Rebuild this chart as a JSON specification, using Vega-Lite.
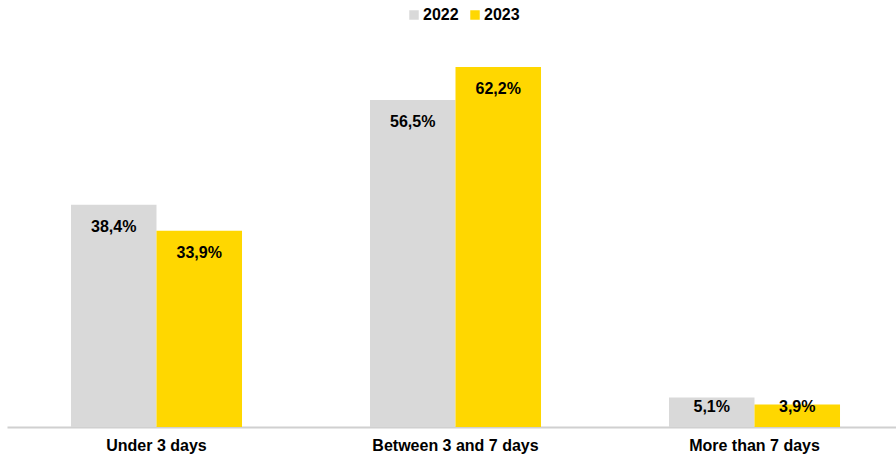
{
  "$schema": "https://vega.github.io/schema/vega-lite/v6.json",
  "autosize": "none",
  "width": 897,
  "height": 400,
  "padding": {"left": 7, "top": 27, "right": 0, "bottom": 32},
  "background": "white",
  "config": {
    "view": {"stroke": null},
    "font": "Liberation Sans",
    "locale": {"number": {"decimal": ",", "thousands": ".", "grouping": [3], "currency": ["", " €"]}}
  },
  "data": {
    "values": [
      {"category": "Under 3 days", "year": "2022", "value": 0.384},
      {"category": "Under 3 days", "year": "2023", "value": 0.339},
      {"category": "Between 3 and 7 days", "year": "2022", "value": 0.565},
      {"category": "Between 3 and 7 days", "year": "2023", "value": 0.622},
      {"category": "More than 7 days", "year": "2022", "value": 0.051},
      {"category": "More than 7 days", "year": "2023", "value": 0.039}
    ]
  },
  "encoding": {
    "x": {
      "field": "category",
      "type": "nominal",
      "sort": ["Under 3 days", "Between 3 and 7 days", "More than 7 days"],
      "scale": {"paddingInner": 0.428, "paddingOuter": 0.214},
      "axis": {
        "title": null,
        "labelAngle": 0,
        "ticks": false,
        "domainColor": "#d0d0d0",
        "domainWidth": 2,
        "labelFont": "Liberation Sans",
        "labelFontSize": 16,
        "labelFontWeight": "bold",
        "labelColor": "#000000",
        "labelPadding": 10
      }
    },
    "xOffset": {"field": "year", "type": "nominal", "scale": {"paddingInner": 0, "paddingOuter": 0}}
  },
  "layer": [
    {
      "mark": {"type": "bar"},
      "encoding": {
        "y": {
          "field": "value",
          "type": "quantitative",
          "scale": {"domain": [0, 0.6912], "nice": false, "zero": true},
          "axis": null
        },
        "color": {
          "field": "year",
          "type": "nominal",
          "scale": {"domain": ["2022", "2023"], "range": ["#d9d9d9", "#ffd700"]},
          "legend": {
            "title": null,
            "orient": "none",
            "direction": "horizontal",
            "legendX": 399,
            "legendY": -20,
            "symbolType": "square",
            "symbolSize": 90,
            "symbolStrokeWidth": 0,
            "labelFont": "Liberation Sans",
            "labelFontSize": 16,
            "labelFontWeight": "bold",
            "labelColor": "#000000",
            "labelOffset": 1,
            "columnPadding": 8
          }
        }
      }
    },
    {
      "mark": {"type": "text", "font": "Liberation Sans", "fontSize": 16, "fontWeight": "bold", "color": "#000000", "baseline": "middle", "align": "center"},
      "encoding": {
        "y": {
          "field": "value",
          "type": "quantitative",
          "scale": {"domain": [0.0726, 0.7292], "range": [380, 0], "nice": false, "zero": false, "clamp": true},
          "axis": null
        },
        "text": {"field": "value", "type": "quantitative", "format": ".1%"}
      }
    }
  ],
  "resolve": {"scale": {"y": "independent"}}
}
